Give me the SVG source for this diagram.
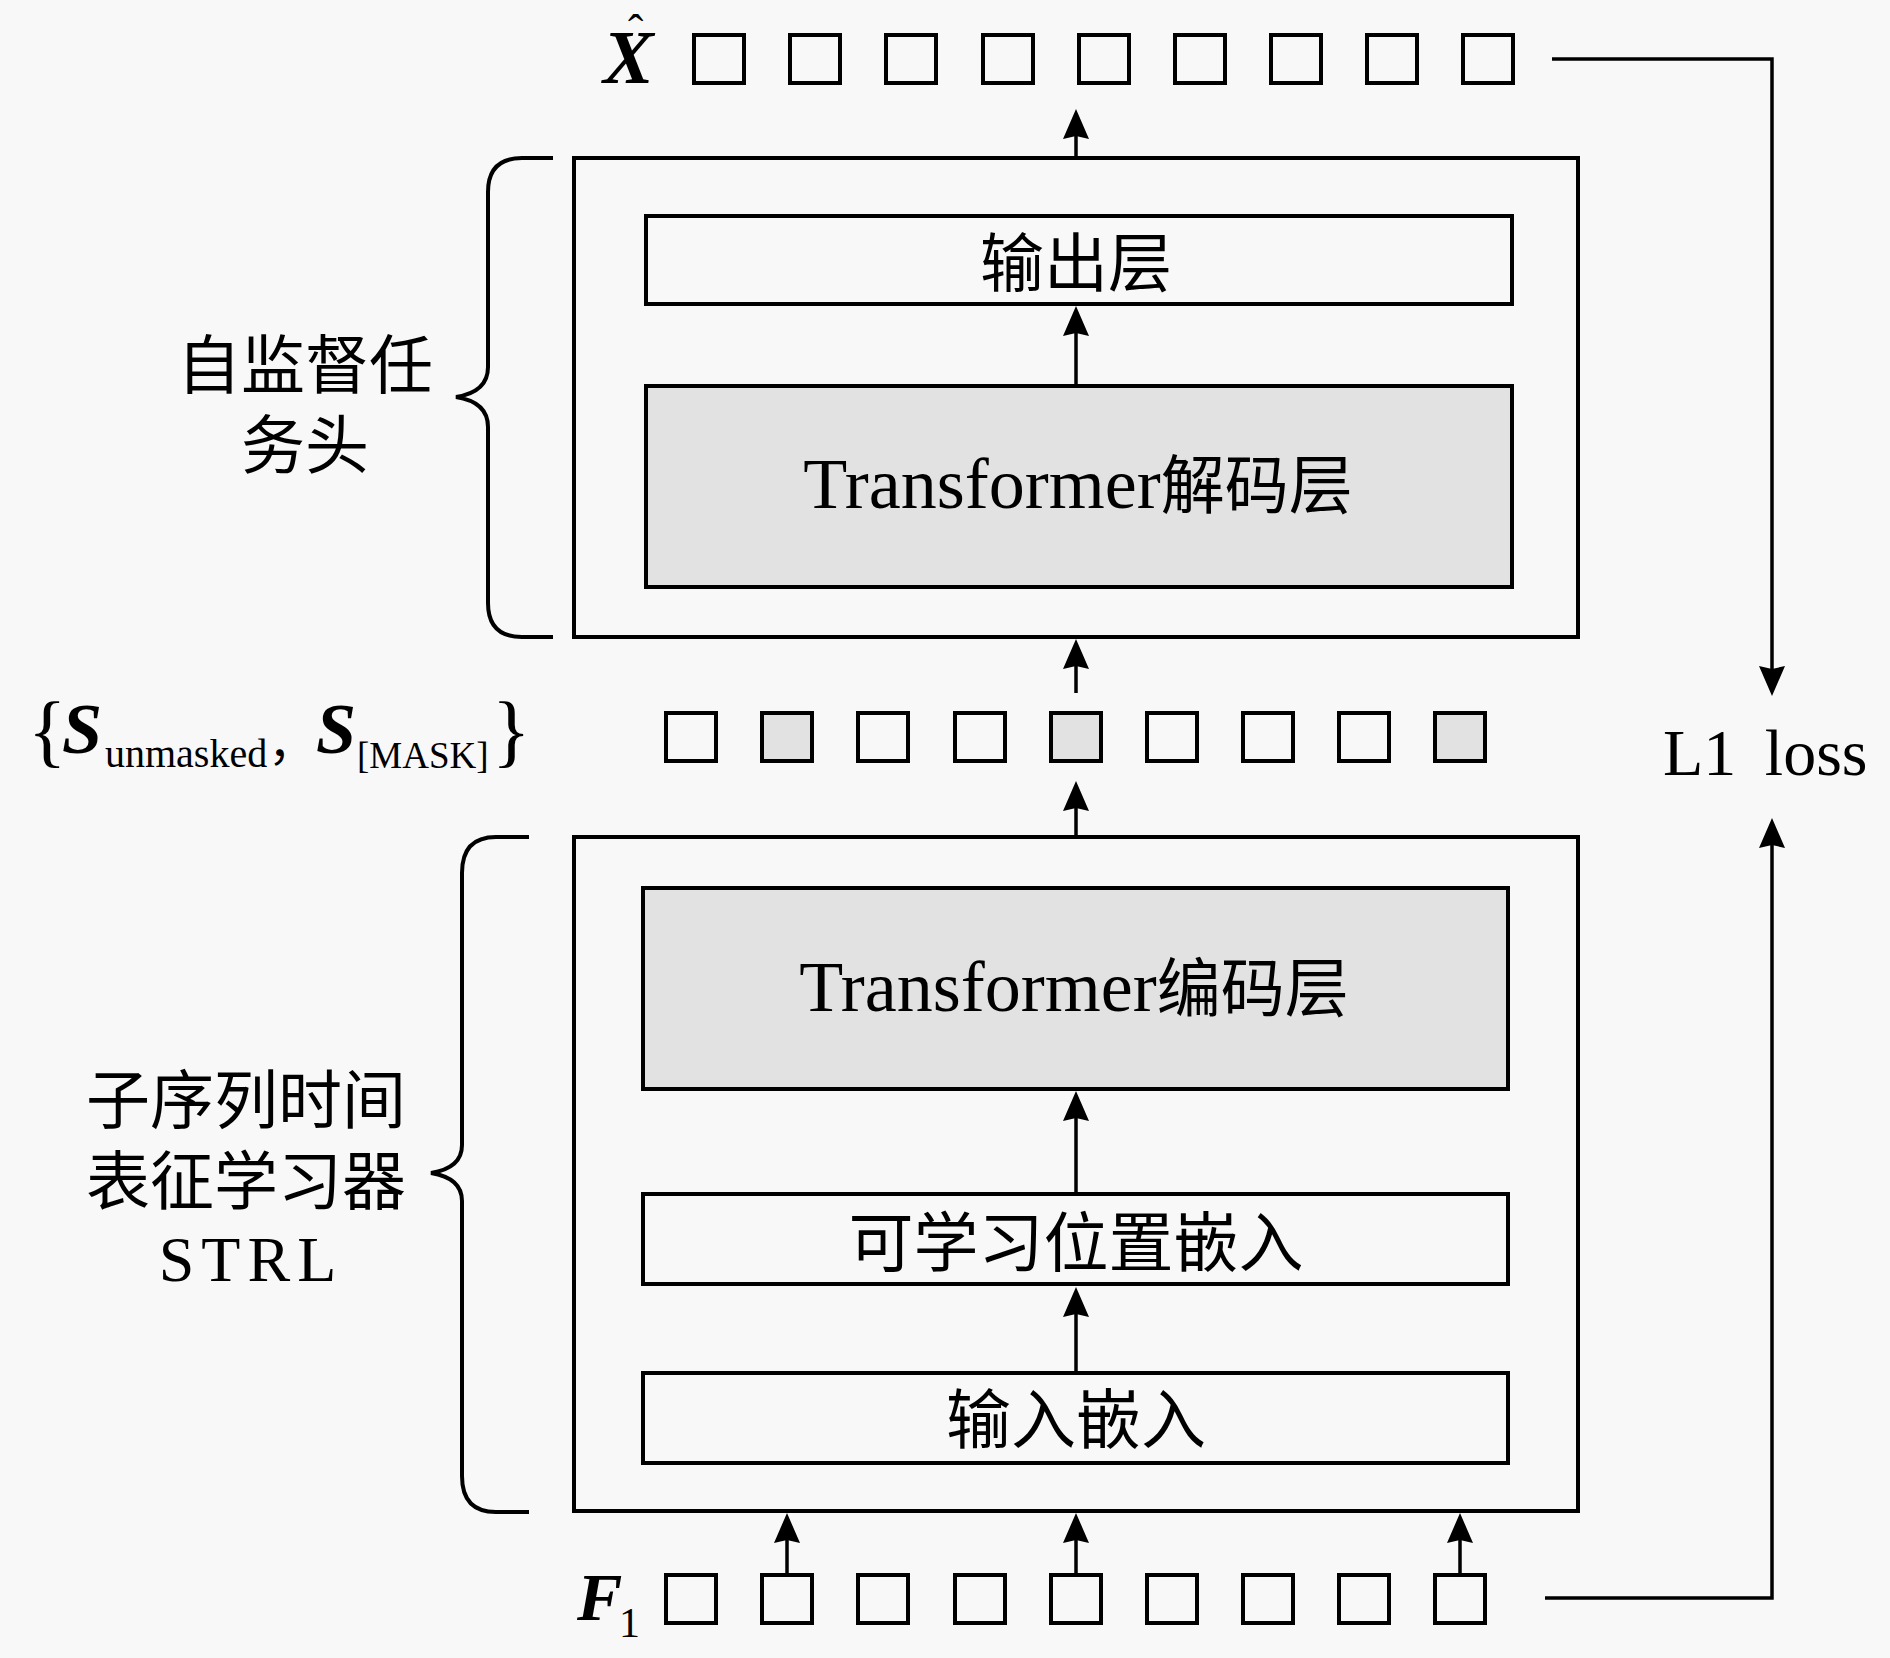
<svg xmlns="http://www.w3.org/2000/svg" width="1890" height="1658" viewBox="0 0 1890 1658">
<defs>
<style>
.bx{fill:#f8f8f8;stroke:#000;stroke-width:4}
.gy{fill:#e2e2e2;stroke:#000;stroke-width:4}
.sq{fill:#f8f8f8;stroke:#000;stroke-width:4}
.sqg{fill:#e2e2e2;stroke:#000;stroke-width:4}
.ln{fill:none;stroke:#000;stroke-width:3.5}
.br{fill:none;stroke:#000;stroke-width:4}
.t{font-family:"Liberation Serif","Noto Sans CJK SC",serif;fill:#000}
.cjk{font-family:"Noto Sans CJK SC","Liberation Serif",sans-serif;fill:#000}
.bi{font-family:"Liberation Serif",serif;font-weight:bold;font-style:italic;fill:#000}
</style>
<marker id="ah" markerUnits="userSpaceOnUse" viewBox="-32 -14 33 28" refX="-8" refY="0" markerWidth="33" markerHeight="28" orient="auto">
<path d="M0,0 L-30,-13 L-27,0 L-30,13 Z" fill="#000"/>
</marker>
</defs>
<rect x="0" y="0" width="1890" height="1658" fill="#f8f8f8"/>

<g id="xhat-row">
<text class="bi" font-size="76"><tspan x="603" y="83">X</tspan><tspan class="t" font-weight="normal" font-style="normal" font-size="46" x="628" y="47">ˆ</tspan></text>
<rect class="sq" x="694" y="35" width="50" height="48"/>
<rect class="sq" x="790" y="35" width="50" height="48"/>
<rect class="sq" x="886" y="35" width="50" height="48"/>
<rect class="sq" x="983" y="35" width="50" height="48"/>
<rect class="sq" x="1079" y="35" width="50" height="48"/>
<rect class="sq" x="1175" y="35" width="50" height="48"/>
<rect class="sq" x="1271" y="35" width="50" height="48"/>
<rect class="sq" x="1367" y="35" width="50" height="48"/>
<rect class="sq" x="1463" y="35" width="50" height="48"/>
</g>

<g id="decoder-head">
<rect class="bx" x="574" y="158" width="1004" height="479"/>
</g>
<g id="output-layer">
<rect class="bx" x="646" y="216" width="866" height="88"/>
<text class="cjk" x="1076" y="286" font-size="64" text-anchor="middle">输出层</text>
</g>
<g id="decoder-layer">
<rect class="gy" x="646" y="386" width="866" height="201"/>
<text class="t" x="1078" y="508" font-size="72" text-anchor="middle">Transformer<tspan class="cjk" font-size="64">解码层</tspan></text>
</g>

<g id="head-label">
<path class="br" d="M553,158 H522 Q488,158 488,192 V367 Q488,392 456,397 Q488,402 488,427 V603 Q488,637 522,637 H553"/>
<text class="cjk" font-size="64" text-anchor="middle"><tspan x="305" y="388">自监督任</tspan><tspan x="305" y="468">务头</tspan></text>
</g>

<g id="mid-row">
<text class="t" font-size="80"><tspan x="28" y="757">{</tspan><tspan class="bi" font-size="72" x="62" y="753">S</tspan><tspan font-size="40" x="105" y="767">unmasked</tspan><tspan class="cjk" font-size="48" x="268" y="760">，</tspan><tspan class="bi" font-size="72" x="316" y="753">S</tspan><tspan font-size="37" x="357" y="768">[MASK]</tspan><tspan x="492" y="757">}</tspan></text>
<rect class="sq" x="666" y="713" width="50" height="48"/>
<rect class="sqg" x="762" y="713" width="50" height="48"/>
<rect class="sq" x="858" y="713" width="50" height="48"/>
<rect class="sq" x="955" y="713" width="50" height="48"/>
<rect class="sqg" x="1051" y="713" width="50" height="48"/>
<rect class="sq" x="1147" y="713" width="50" height="48"/>
<rect class="sq" x="1243" y="713" width="50" height="48"/>
<rect class="sq" x="1339" y="713" width="50" height="48"/>
<rect class="sqg" x="1435" y="713" width="50" height="48"/>
</g>

<g id="encoder-strl">
<rect class="bx" x="574" y="837" width="1004" height="674"/>
</g>
<g id="encoder-layer">
<rect class="gy" x="643" y="888" width="865" height="201"/>
<text class="t" x="1074" y="1011" font-size="72" text-anchor="middle">Transformer<tspan class="cjk" font-size="64">编码层</tspan></text>
</g>
<g id="pos-embed">
<rect class="bx" x="643" y="1194" width="865" height="90"/>
<text class="cjk" x="1076" y="1266" font-size="65" text-anchor="middle">可学习位置嵌入</text>
</g>
<g id="input-embed">
<rect class="bx" x="643" y="1373" width="865" height="90"/>
<text class="cjk" x="1076" y="1443" font-size="65" text-anchor="middle">输入嵌入</text>
</g>

<g id="strl-label">
<path class="br" d="M529,837 H496 Q462,837 462,873 V1145 Q462,1168 431,1173 Q462,1178 462,1201 V1476 Q462,1512 496,1512 H529"/>
<text class="cjk" font-size="64" text-anchor="middle"><tspan x="246" y="1123">子序列时间</tspan><tspan x="246" y="1204">表征学习器</tspan><tspan class="t" letter-spacing="7" x="251" y="1281">STRL</tspan></text>
</g>

<g id="f-row">
<text class="bi" font-size="68"><tspan x="577" y="1620">F</tspan><tspan class="t" font-weight="normal" font-style="normal" font-size="42" x="619" y="1637">1</tspan></text>
<rect class="sq" x="666" y="1575" width="50" height="48"/>
<rect class="sq" x="762" y="1575" width="50" height="48"/>
<rect class="sq" x="858" y="1575" width="50" height="48"/>
<rect class="sq" x="955" y="1575" width="50" height="48"/>
<rect class="sq" x="1051" y="1575" width="50" height="48"/>
<rect class="sq" x="1147" y="1575" width="50" height="48"/>
<rect class="sq" x="1243" y="1575" width="50" height="48"/>
<rect class="sq" x="1339" y="1575" width="50" height="48"/>
<rect class="sq" x="1435" y="1575" width="50" height="48"/>
</g>

<g id="loss">
<text class="t" x="1663" y="775" font-size="66" word-spacing="12">L1 loss</text>
</g>

<g id="connectors">
<path class="ln" d="M1076,158 V117" marker-end="url(#ah)"/>
<path class="ln" d="M1076,386 V314" marker-end="url(#ah)"/>
<path class="ln" d="M1076,693 V647" marker-end="url(#ah)"/>
<path class="ln" d="M1076,837 V789" marker-end="url(#ah)"/>
<path class="ln" d="M1076,1194 V1099" marker-end="url(#ah)"/>
<path class="ln" d="M1076,1373 V1295" marker-end="url(#ah)"/>
<path class="ln" d="M787,1575 V1521" marker-end="url(#ah)"/>
<path class="ln" d="M1076,1575 V1521" marker-end="url(#ah)"/>
<path class="ln" d="M1460,1575 V1521" marker-end="url(#ah)"/>
<path class="ln" d="M1552,59 H1772 V688" marker-end="url(#ah)"/>
<path class="ln" d="M1545,1598 H1772 V826" marker-end="url(#ah)"/>
</g>
</svg>
